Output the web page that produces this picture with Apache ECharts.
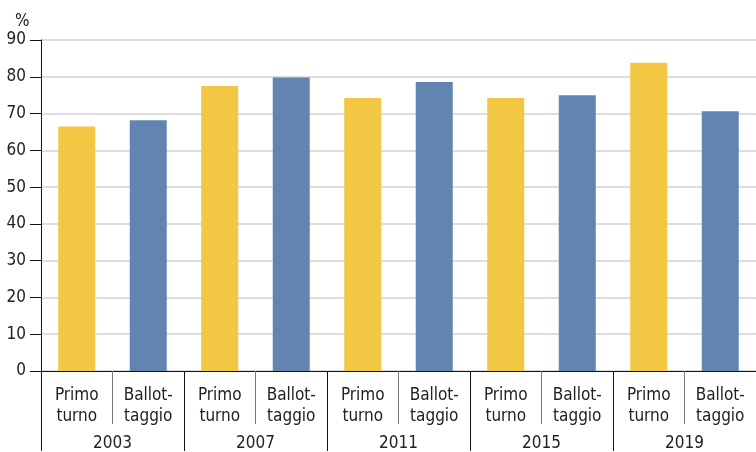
<!DOCTYPE html>
<html>
<head>
<meta charset="utf-8">
<script src="https://cdn.jsdelivr.net/npm/echarts@6/dist/echarts.min.js"></script>
<style>
html, body { margin: 0; padding: 0; background: #fff; }
#container { width: 756px; height: 452px; }
</style>
</head>
<body>
<div id="container"></div>
<script>
var years = ['2003', '2007', '2011', '2015', '2019'];
var roundLabels = ['Primo\nturno', 'Ballot-\ntaggio'];
var primoTurno = [66.5, 77.5, 74.2, 74.2, 83.8];
var ballottaggio = [68.2, 79.8, 78.6, 75.0, 70.6];
var yTicks = [0, 10, 20, 30, 40, 50, 60, 70, 80, 90];

var FONT = '"DejaVu Sans Condensed", "Liberation Sans Narrow", sans-serif';
var YELLOW = '#f2c744';
var BLUE = '#6284b1';

var app = (function() {
	var dom = document.getElementById('container');
	var myChart = echarts.init(dom);

	// interleave the two rounds per election year
	var categories = [];
	var barData = [];
	years.forEach(function(y, i) {
		categories.push(roundLabels[0]);
		barData.push({ value: primoTurno[i], itemStyle: { color: YELLOW } });
		categories.push(roundLabels[1]);
		barData.push({ value: ballottaggio[i], itemStyle: { color: BLUE } });
	});

	myChart.setOption({
		backgroundColor: '#fff',
		animation: false,
		title: {
			text: '%',
			left: 10,
			top: 8,
			textStyle: { fontFamily: FONT, fontSize: 17, fontWeight: 'normal', color: '#222' }
		},
		grid: { left: 41, right: 0, top: 40, bottom: 80 },
		xAxis: [{
			type: 'category',
			data: categories,
			position: 'bottom',
			axisLine: { show: true, lineStyle: { color: '#111', width: 1 } },
			axisTick: { show: true, interval: 0, length: 53, lineStyle: { color: '#777', width: 1 } },
			axisLabel: {
				margin: 14,
				fontFamily: FONT,
				fontSize: 17,
				lineHeight: 21,
				color: '#222',
				interval: 0
			}
		}, {
			type: 'category',
			data: years,
			position: 'bottom',
			axisLine: { show: false },
			axisTick: { show: true, interval: 0, length: 80, lineStyle: { color: '#111', width: 1 } },
			axisLabel: {
				margin: 64,
				fontFamily: FONT,
				fontSize: 17,
				color: '#222',
				interval: 0
			}
		}],
		yAxis: {
			type: 'value',
			min: yTicks[0],
			max: yTicks[yTicks.length - 1],
			interval: 10,
			axisLine: { show: true, lineStyle: { color: '#111', width: 1 } },
			axisTick: { show: true, length: 11, lineStyle: { color: '#111' } },
			axisLabel: {
				margin: 15,
				fontFamily: FONT,
				fontSize: 17,
				color: '#222'
			},
			splitLine: { lineStyle: { color: '#d2d2d2', width: 1.5 } }
		},
		series: [{
			type: 'bar',
			xAxisIndex: 0,
			data: barData,
			barWidth: 37,
			silent: true
		}]
	});

	return {
		resize: function() { myChart.resize(); }
	};
})();

window.addEventListener('resize', function() { app.resize(); });
</script>
</body>
</html>
